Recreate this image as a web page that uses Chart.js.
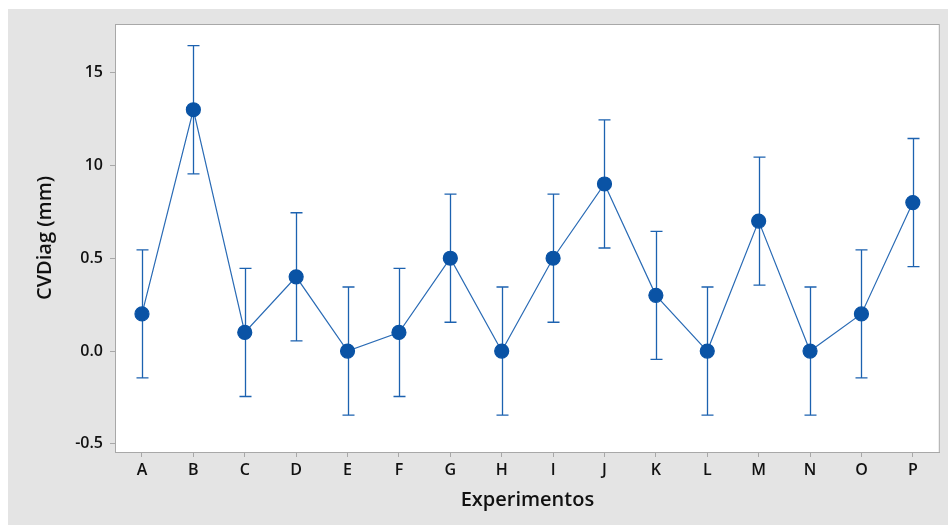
<!DOCTYPE html>
<html>
<head>
<meta charset="utf-8">
<script src="https://cdn.jsdelivr.net/npm/chart.js@4/dist/chart.umd.min.js"></script>
<style>
  html, body { margin: 0; padding: 0; background: #ffffff; }
  #wrap { width: 948px; height: 525px; }
</style>
</head>
<body>
<div id="wrap"><canvas id="chart" width="948" height="525"></canvas></div>
<script>
// data
const categories = ["A", "B", "C", "D", "E", "F", "G", "H", "I", "J", "K", "L", "M", "N", "O", "P"];
const means = [0.2, 1.3, 0.1, 0.4, 0.0, 0.1, 0.5, 0.0, 0.5, 0.9, 0.3, 0.0, 0.7, 0.0, 0.2, 0.8];
const lower = [-0.145, 0.955, -0.245, 0.055, -0.345, -0.245, 0.155, -0.345, 0.155, 0.555, -0.045, -0.345, 0.355, -0.345, -0.145, 0.455];
const upper = [0.545, 1.645, 0.445, 0.745, 0.345, 0.445, 0.845, 0.345, 0.845, 1.245, 0.645, 0.345, 1.045, 0.345, 0.545, 1.145];
const yTickValues = [-0.5, 0.0, 0.5, 1.0, 1.5];
const yTickLabels = ["-0.5", "0.0", "0.5", "10", "15"];

const blue = "#0a53a5";
const lineBlue = "#2a6bb5";
const axisGray = "#a8a8a8";

// background, white plot box and its frame
const backdrop = {
  id: "backdrop",
  beforeDraw(chart) {
    const { ctx, chartArea: a } = chart;
    ctx.save();
    ctx.fillStyle = "#ffffff";
    ctx.fillRect(0, 0, chart.width, chart.height);
    ctx.fillStyle = "#e4e4e4";
    ctx.fillRect(8, 9, chart.width - 8, chart.height - 9);
    ctx.fillStyle = "#ffffff";
    ctx.fillRect(a.left, a.top, a.right - a.left, a.bottom - a.top);
    ctx.strokeStyle = axisGray;
    ctx.lineWidth = 1;
    ctx.strokeRect(a.left + 0.5, a.top + 0.5, a.right - a.left - 1, a.bottom - a.top);
    ctx.restore();
  }
};

// error bars drawn from lower/upper through the chart scales
const errorBars = {
  id: "errorBars",
  beforeDatasetsDraw(chart) {
    const { ctx, scales } = chart;
    ctx.save();
    ctx.strokeStyle = "#1c62b0";
    ctx.lineWidth = 1.3;
    categories.forEach((c, i) => {
      const x = Math.round(scales.x.getPixelForValue(i)) + 0.5;
      const yl = scales.y.getPixelForValue(lower[i]);
      const yu = scales.y.getPixelForValue(upper[i]);
      ctx.beginPath();
      ctx.moveTo(x, yl); ctx.lineTo(x, yu);
      ctx.moveTo(x - 6, yl); ctx.lineTo(x + 6, yl);
      ctx.moveTo(x - 6, yu); ctx.lineTo(x + 6, yu);
      ctx.stroke();
    });
    ctx.restore();
  }
};

const tickFont = { family: "'Open Sans', sans-serif", size: 16, weight: "600" };
const titleFont = { family: "'Open Sans', sans-serif", size: 20, weight: "600" };

new Chart(document.getElementById("chart"), {
  type: "line",
  data: {
    datasets: [{
      data: means.map((v, i) => ({ x: i, y: v })),
      borderColor: lineBlue,
      borderWidth: 1.2,
      pointBackgroundColor: blue,
      pointBorderColor: blue,
      pointRadius: 7,
      pointHoverRadius: 7,
      tension: 0,
      fill: false
    }]
  },
  plugins: [backdrop, errorBars],
  options: {
    responsive: false,
    animation: false,
    events: [],
    layout: { padding: { left: 0, top: 24, right: 7, bottom: 0 } },
    plugins: { legend: { display: false }, tooltip: { enabled: false } },
    scales: {
      x: {
        type: "linear",
        min: -0.525,
        max: 15.525,
        afterBuildTicks: (s) => { s.ticks = categories.map((c, i) => ({ value: i })); },
        afterFit: (s) => { s.height = 73; },
        ticks: {
          color: "#111111",
          font: tickFont,
          padding: 4,
          autoSkip: false,
          maxRotation: 0,
          callback: (v) => categories[v]
        },
        grid: { drawOnChartArea: false, color: axisGray, tickLength: 5 },
        border: { color: axisGray },
        title: { display: true, text: "Experimentos", color: "#111111", font: titleFont, padding: { top: 0, bottom: 13 } }
      },
      y: {
        min: -0.544,
        max: 1.762,
        afterBuildTicks: (s) => { s.ticks = yTickValues.map((v) => ({ value: v })); },
        afterFit: (s) => { s.width = 115; },
        ticks: {
          color: "#111111",
          font: tickFont,
          padding: 7,
          callback: (v) => yTickLabels[yTickValues.indexOf(v)]
        },
        grid: { drawOnChartArea: false, color: axisGray, tickLength: 5 },
        border: { color: axisGray },
        title: { display: true, text: "CVDiag (mm)", color: "#111111", font: titleFont, padding: { top: 33, bottom: 0 } }
      }
    }
  }
});
</script>
</body>
</html>
